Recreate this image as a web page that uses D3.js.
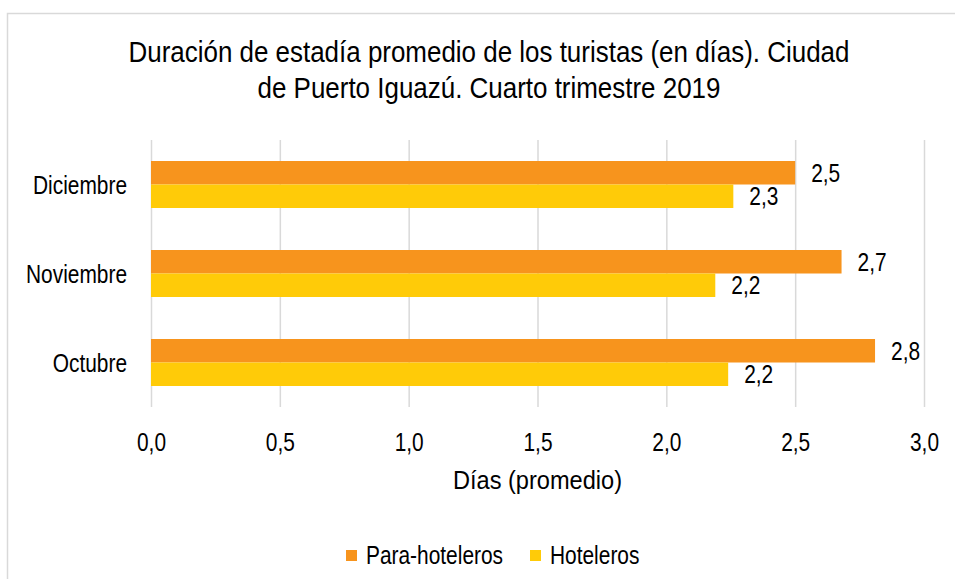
<!DOCTYPE html>
<html>
<head>
<meta charset="utf-8">
<script src="https://cdn.jsdelivr.net/npm/d3@7"></script>
<style>
  html, body { margin: 0; padding: 0; background: #fff; }
  svg { display: block; }
  text { font-family: "Liberation Sans", Arial, sans-serif; font-weight: 400; fill: #000; }
</style>
</head>
<body>
<script>
const categories = ["Diciembre", "Noviembre", "Octubre"];
const seriesNames = ["Para-hoteleros", "Hoteleros"];
const paraHoteleros = [2.5, 2.68, 2.81];
const hoteleros = [2.26, 2.19, 2.24];
const tickValues = [0, 0.5, 1, 1.5, 2, 2.5, 3];
const titleLines = ["Duración de estadía promedio de los turistas (en días). Ciudad", "de Puerto Iguazú. Cuarto trimestre 2019"];
const axisTitle = "Días (promedio)";
const colors = ["#F7941D", "#FFCB08"];

const W = 955, H = 579;
const plot = { left: 151, right: 924, top: 140, bottom: 407 };
const FONT = '"Liberation Sans", Arial, sans-serif';
const NARROW = 0.82; // horizontal condensing to mimic a narrow face

const locale = d3.formatLocale({ decimal: ",", thousands: ".", grouping: [3], currency: ["$", ""] });
const fmt = locale.format(".1f");

const svg = d3.select("body").append("svg").attr("width", W).attr("height", H);

// chart border
svg.append("rect").attr("x", 7.5).attr("y", 13.5).attr("width", 1000).attr("height", 1000)
  .attr("fill", "#fff").attr("stroke", "#d9d9d9").attr("stroke-width", 1.5);

const x = d3.scaleLinear().domain([0, 3]).range([plot.left, plot.right]);
const y = d3.scaleBand().domain(categories).range([plot.top, plot.bottom]).padding(0);
const ySub = d3.scaleBand().domain(seriesNames).range([0, y.bandwidth()]).paddingInner(0).paddingOuter(0.894);

// x axis with gridlines
const xAxis = d3.axisBottom(x).tickValues(tickValues).tickFormat(fmt)
  .tickSize(-(plot.bottom - plot.top)).tickPadding(0);
const gx = svg.append("g").attr("transform", `translate(0,${plot.bottom})`).call(xAxis);
gx.select(".domain").remove();
gx.selectAll(".tick line").attr("stroke", "#d9d9d9").attr("stroke-width", 1.5);
gx.selectAll(".tick text").attr("x", 0).attr("y", 44).attr("dy", 0).attr("font-size", 25.5)
  .style("font-family", FONT).attr("fill", "#000");

// category labels
const gy = svg.append("g").attr("transform", `translate(${plot.left},0)`)
  .call(d3.axisLeft(y).tickSize(0).tickPadding(24));
gy.select(".domain").remove();
gy.selectAll(".tick text").attr("font-size", 25.5).attr("dy", "0.36em")
  .style("font-family", FONT).attr("fill", "#000");

// bars
const rows = categories.map((c, i) => ({ cat: c, vals: [paraHoteleros[i], hoteleros[i]] }));
const groups = svg.append("g").selectAll("g").data(rows).join("g")
  .attr("transform", d => `translate(0,${y(d.cat)})`);
groups.selectAll("rect").data(d => d.vals.map((v, j) => ({ v, s: seriesNames[j], j }))).join("rect")
  .attr("x", x(0))
  .attr("y", d => ySub(d.s))
  .attr("width", d => x(d.v) - x(0))
  .attr("height", ySub.bandwidth())
  .attr("fill", d => colors[d.j]);
groups.selectAll("text").data(d => d.vals.map((v, j) => ({ v, s: seriesNames[j], j }))).join("text")
  .attr("x", d => x(d.v) + 16)
  .attr("y", d => ySub(d.s) + ySub.bandwidth() / 2)
  .attr("dy", "0.36em")
  .attr("font-size", 25.5)
  .text(d => fmt(d.v));

// title
svg.append("text").attr("class", "wide-title").attr("x", 489).attr("y", 62).attr("text-anchor", "middle").attr("font-size", 29.5)
  .attr("data-sx", 0.88)
  .selectAll("tspan").data(titleLines).join("tspan")
  .attr("x", 489).attr("y", (d, i) => 62 + i * 36.5).text(d => d);

// axis title
svg.append("text").attr("x", 537.5).attr("y", 489).attr("text-anchor", "middle")
  .attr("font-size", 26.5).attr("data-sx", 0.89).text(axisTitle);

// legend
const legendX = [346, 530];
const lg = svg.append("g").selectAll("g").data(seriesNames).join("g")
  .attr("transform", (d, i) => `translate(${legendX[i]},0)`);
lg.append("rect").attr("x", 0).attr("y", 550).attr("width", 11).attr("height", 11)
  .attr("fill", (d, i) => colors[i]);
lg.append("text").attr("x", 20).attr("y", 564).attr("font-size", 25.5).text(d => d);

// condense every text horizontally around its own anchor point
svg.selectAll("text").each(function () {
  const ax = +this.getAttribute("x") || 0;
  const ay = +this.getAttribute("y") || 0;
  const sx = +this.getAttribute("data-sx") || NARROW;
  d3.select(this).attr("transform", `translate(${ax},${ay}) scale(${sx},1) translate(${-ax},${-ay})`);
});
</script>
</body>
</html>
